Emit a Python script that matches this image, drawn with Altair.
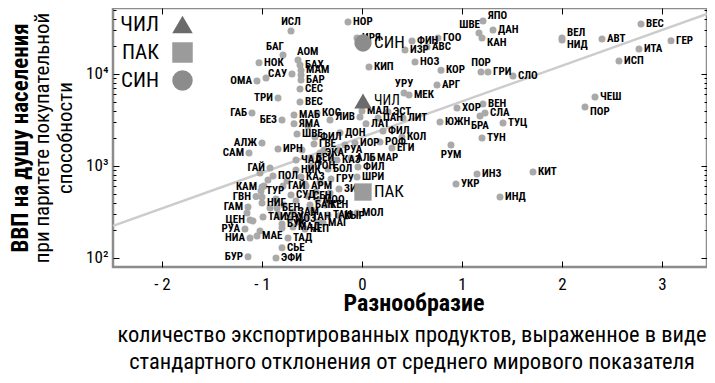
import altair as alt
import pandas as pd

FONT = "Roboto Condensed, DejaVu Sans Condensed, Liberation Sans Narrow, Arial Narrow, sans-serif"

# ---- scattered countries (label, diversity, GDP per capita PPP, label side) ----
names = [
    "ИСЛ", "БАГ", "АОМ", "НОК", "БАХ", "МАМ", "САУ", "", "", "БАР",
    "ОМА", "СЕС", "ТРИ", "ВЕС", "ГАБ", "БЕЗ", "МАБ", "ЯМА", "ШВЕ", "КОС",
    "ЛИВ", "МАЛ", "ПАН", "ЛАТ", "ЭСТ", "ЛИТ", "ФИЛ", "ДОН", "ГВЕ", "ИОР",
    "ФИЛ", "РОФ", "КОЛ", "ЕГИ", "АЛЖ", "ИРН", "САМ", "ЭКА", "РУА", "КАЗ",
    "АЛБ", "МАР", "ЧАД", "БЕИ", "ГАЙ", "ПОЛ", "НИК", "ТОН", "БОЛ", "ФИЛ",
    "КАЗ", "ГРУ", "ШРИ", "КАМ", "ГАЙ", "АРМ", "ЗИМ", "ГВН", "ТУР", "СУД",
    "СЕН", "МОО", "ГАМ", "НИГ", "БЕН", "ЗАМ", "БАН", "КЕН", "ЦЕН", "ТАИ",
    "УРУ", "ТАН", "ТАН", "КЫР", "МОЛ", "РУА", "БУК", "МОЗ", "МАД", "НЕП",
    "МАГ", "НИА", "МАЕ", "ТАД", "СЬЕ", "БУР", "ЭФИ", "", "", "",
    "", "", "", "", "", "", "", "", "", "",
    "", "", "", "", "", "", "", "", "", "",
    "", "", "", "", "", "НОР", "ИРЯ", "ФИН", "ГОО", "ИЗР",
    "АВС", "ЯПО", "ШВЕ", "ДАН", "КАН", "КИП", "НОЗ", "КОР", "ПОР", "ГРИ",
    "СЛО", "УРУ", "МЕК", "АРГ", "ХОР", "ВЕН", "СЛА", "БРА", "ТУЦ", "ЮЖН",
    "ТУН", "РУМ", "ИНЗ", "КИТ", "УКР", "ИНД", "ВЕЛ", "НИД", "АВТ", "ВЕС",
    "ГЕР", "ИТА", "ИСП", "ЧЕШ", "ПОР",
]
diversity = [
    -0.71, -0.79, -0.64, -1.03, -0.62, -0.61, -0.70, -0.61, -0.96, -0.61,
    -1.05, -0.62, -0.84, -0.62, -1.10, -0.80, -0.68, -0.68, -0.65, -0.45,
    -0.02, 0.00, 0.16, 0.04, 0.26, 0.41, -0.47, -0.22, -0.48, -0.07,
    0.21, 0.18, 0.40, 0.30, -1.00, -0.84, -1.13, -0.42, -0.23, -0.25,
    -0.11, 0.10, -0.66, -0.51, -0.92, -0.89, -0.66, -0.51, -0.34, -0.04,
    -0.61, -0.31, -0.05, -1.00, -0.79, -0.56, -0.23, -1.06, -1.01, -0.71,
    -0.54, -0.44, -1.14, -1.00, -0.85, -0.69, -0.52, -0.37, -1.12, -0.99,
    -0.82, -0.55, -0.34, -0.23, -0.05, -1.17, -0.80, -0.72, -0.69, -0.57,
    -0.39, -1.12, -1.05, -0.74, -0.80, -1.14, -0.86, -0.98, -1.00, -0.92,
    -0.84, -1.09, -1.02, -0.78, -0.64, -0.50, -0.57, -0.46, -0.66, -0.86,
    -1.15, -0.94, -0.75, -0.42, -0.32, -0.12, -0.44, -0.80, -1.02, -0.38,
    -0.29, -0.17, -0.60, -0.54, -0.32, -0.14, -0.05, 0.50, 0.76, 0.43,
    0.65, 1.21, 1.17, 1.31, 1.20, 0.07, 0.53, 0.79, 1.19, 1.26,
    1.51, 0.42, 0.47, 0.75, 0.95, 1.21, 1.23, 1.18, 1.41, 0.78,
    1.20, 0.89, 1.15, 1.71, 0.94, 1.38, 2.00, 2.00, 2.40, 2.79,
    3.09, 2.77, 2.57, 2.33, 2.23,
]
gdp = [
    29300, 16100, 14200, 13200, 12500, 11000, 10000, 9750, 9050, 8610,
    8390, 6870, 5480, 4960, 3770, 3160, 3580, 2870, 2230, 3770,
    3410, 3960, 3330, 2870, 3860, 3330, 2070, 2290, 1730, 1780,
    2400, 1820, 2070, 1570, 1780, 1530, 1380, 1380, 1490, 1160,
    1220, 1220, 1160, 1220, 950, 778, 906, 1000, 927, 975,
    759, 723, 759, 592, 607, 607, 562, 465, 535, 484,
    472, 427, 358, 396, 349, 316, 377, 377, 259, 279,
    279, 279, 293, 286, 308, 206, 234, 266, 217, 206,
    240, 165, 173, 165, 129, 103, 100, 607, 460, 349,
    301, 252, 196, 377, 246, 333, 637, 521, 417, 438,
    308, 705, 687, 670, 509, 293, 246, 212, 840, 1490,
    1160, 1690, 1490, 2720, 3160, 36700, 24600, 22800, 24600, 18200,
    19600, 37700, 27900, 30100, 24600, 11900, 13500, 11000, 10500, 10500,
    9500, 6210, 5910, 7590, 4270, 4720, 3770, 3490, 2930, 3010,
    2010, 1690, 819, 861, 637, 460, 24600, 23400, 24000, 34900,
    22900, 18700, 13800, 5620, 4380,
]
label_side = [
    "t", "tl", "tr", "r", "r", "r", "l", "r", "r", "r",
    "l", "r", "l", "r", "l", "l", "r", "r", "r", "r",
    "l", "r", "r", "r", "r", "r", "r", "r", "r", "r",
    "r", "r", "r", "r", "l", "r", "l", "r", "r", "r",
    "r", "r", "r", "r", "l", "r", "r", "r", "r", "r",
    "r", "r", "r", "l", "r", "r", "r", "l", "r", "r",
    "r", "r", "l", "r", "r", "r", "r", "r", "l", "r",
    "r", "r", "r", "r", "r", "l", "r", "r", "r", "r",
    "r", "l", "r", "r", "r", "l", "r", "r", "r", "r",
    "r", "r", "r", "r", "r", "r", "r", "r", "r", "r",
    "r", "r", "r", "r", "r", "r", "r", "r", "r", "r",
    "r", "r", "r", "r", "r", "r", "r", "r", "r", "r",
    "r", "ru", "tl", "r", "rd", "r", "r", "r", "t", "r",
    "r", "t", "r", "r", "r", "r", "r", "b", "r", "r",
    "r", "b", "r", "r", "r", "r", "ru", "rd", "r", "r",
    "r", "r", "r", "r", "rd",
]
assert len(names) == len(diversity) == len(gdp) == len(label_side)

# ---- highlighted countries ----
hl_names = ["ЧИЛ", "ПАК", "СИН"]
hl_diversity = [0.01, 0.01, 0.01]
hl_gdp = [5090, 521, 21700]
hl_colors = ["#6b6b6b", "#9b9b9b", "#8c8c8c"]
hl_shapes = ["triangle-up", "square", "circle"]

# ---- fitted trend line (end points) ----
trend_diversity = [-2.49, 3.45]
trend_gdp = [223, 44900]

x_ticks = [-2, -1, 0, 1, 2, 3]
y_major = [100, 1000, 10000]
y_minor = [200, 300, 400, 500, 600, 700, 800, 900,
           2000, 3000, 4000, 5000, 6000, 7000, 8000, 9000,
           20000, 30000, 40000, 50000]

y_title_bold = "ВВП на душу населения"
y_title_lines = ["при паритете покупательной", "способности"]
x_title_bold = "Разнообразие"
x_title_lines = ["количество экспортированных продуктов, выраженное в виде",
                 "стандартного отклонения от среднего мирового показателя"]

W, H = 594, 259

df = pd.DataFrame({"name": names, "div": diversity, "gdp": gdp, "side": label_side})
hl = pd.DataFrame({"name": hl_names, "div": hl_diversity, "gdp": hl_gdp})
tr = pd.DataFrame({"div": trend_diversity, "gdp": trend_gdp})

xs = alt.Scale(domain=[-2.49, 3.45], nice=False, zero=False)
ys = alt.Scale(type="log", domain=[79.8, 52100], nice=False)

x_label_expr = "datum.value < 0 ? '- ' + abs(datum.value) : '' + datum.value"
y_label_expr = "datum.value == 100 ? '10²' : datum.value == 1000 ? '10³' : '10⁴'"

common_axis = dict(domain=False, grid=False, tickColor="#000", labelColor="#000",
                   labelFont=FONT, labelFontSize=17, title=None)

trend = alt.Chart(tr).mark_line(color="#cccccc", strokeWidth=2.5).encode(
    x=alt.X("div:Q", scale=xs, axis=alt.Axis(orient="top", values=x_ticks, labels=False,
                                             tickSize=6, offset=-6, **common_axis)),
    y=alt.Y("gdp:Q", scale=ys, axis=alt.Axis(orient="right", values=y_major, labels=False,
                                             tickSize=6, offset=-6, **common_axis)),
)

pts = alt.Chart(df).mark_circle(size=49, color="#a9a9a9", opacity=1).encode(
    x=alt.X("div:Q", scale=xs, axis=alt.Axis(orient="bottom", values=x_ticks,
                                             labelExpr=x_label_expr, tickSize=6, offset=-6,
                                             labelPadding=9, labelFlush=False, **common_axis)),
    y=alt.Y("gdp:Q", scale=ys, axis=alt.Axis(orient="left", values=y_major,
                                             labelExpr=y_label_expr, tickSize=6, offset=-6,
                                             labelPadding=5, labelOverlap=False, **common_axis)),
)

side_cfg = {
    "r": dict(align="left", dx=5, dy=0, baseline="middle"),
    "l": dict(align="right", dx=-5, dy=0, baseline="middle"),
    "t": dict(align="center", dx=0, dy=-4, baseline="bottom"),
    "b": dict(align="center", dx=0, dy=4, baseline="top"),
    "tl": dict(align="right", dx=1, dy=-3, baseline="bottom"),
    "tr": dict(align="left", dx=-1, dy=-3, baseline="bottom"),
    "ru": dict(align="left", dx=5, dy=-5, baseline="middle"),
    "rd": dict(align="left", dx=5, dy=5, baseline="middle"),
}

label_layers = []
for i, (side, cfg) in enumerate(side_cfg.items()):
    if i == 0:
        yax = alt.Axis(orient="right", values=y_minor, labels=False, tickSize=3, offset=-3,
                       **common_axis)
    else:
        yax = None
    lay = alt.Chart(df).transform_filter(
        alt.datum.side == side
    ).mark_text(font=FONT, fontSize=11, fontWeight="bold", color="#000", **cfg).encode(
        x=alt.X("div:Q", scale=xs, axis=None),
        y=alt.Y("gdp:Q", scale=ys, axis=yax),
        text="name:N",
    )
    label_layers.append(lay)

legend = alt.Legend(title=None, orient="none", legendX=59, legendY=6, symbolSize=420,
                    labelFont=FONT, labelFontSize=21, labelColor="#000",
                    labelOffset={"expr": "-34"}, labelAlign="right", rowPadding=6,
                    symbolStrokeWidth=0, padding=0)

hl_pts = alt.Chart(hl).mark_point(filled=True, opacity=1, size=300).encode(
    x=alt.X("div:Q", scale=xs, axis=None),
    y=alt.Y("gdp:Q", scale=ys, axis=alt.Axis(orient="left", values=y_minor, labels=False,
                                             tickSize=3, offset=-3, **common_axis)),
    color=alt.Color("name:N", scale=alt.Scale(domain=hl_names, range=hl_colors), legend=legend),
    shape=alt.Shape("name:N", scale=alt.Scale(domain=hl_names, range=hl_shapes), legend=legend),
)


def hl_label(selected, size):
    return alt.Chart(hl).transform_filter(
        alt.FieldOneOfPredicate(field="name", oneOf=selected)
    ).mark_text(font=FONT, fontSize=size, color="#000", align="left", dx=11,
                baseline="middle").encode(
        x=alt.X("div:Q", scale=xs, axis=None),
        y=alt.Y("gdp:Q", scale=ys, axis=None),
        text="name:N",
    )


hl_texts = [hl_label(hl_names[:1], 14), hl_label(hl_names[1:], 17)]


def title_text(txt, px, py, size, weight, angle=0):
    return alt.Chart(pd.DataFrame({"t": [txt]})).mark_text(
        font=FONT, fontSize=size, fontWeight=weight, color="#000", angle=angle,
        align="center", baseline="middle",
    ).encode(x=alt.value(px), y=alt.value(py), text="t:N")


titles = [
    title_text(y_title_bold, -92, H / 2 + 0.5, 23, "bold", 270),
    title_text(y_title_lines[0], -70, H / 2 + 0.5, 21, "normal", 270),
    title_text(y_title_lines[1], -47, H / 2 + 0.5, 21, "normal", 270),
    title_text(x_title_bold, 301, 296, 24, "bold"),
    title_text(x_title_lines[0], 299, 327, 22.5, "normal"),
    title_text(x_title_lines[1], 299, 354, 22.5, "normal"),
]

chart = alt.layer(trend, pts, *label_layers, hl_pts, *hl_texts, *titles).resolve_axis(
    x="independent", y="independent"
).properties(
    width=W, height=H,
    autosize=alt.AutoSizeParams(type="none"),
    padding={"left": 105, "top": 0, "right": 0, "bottom": 108},
).configure_view(stroke="#8c8c8c", strokeWidth=2.5)

chart.save("out.html", embed_options={"renderer": "svg", "actions": False})
